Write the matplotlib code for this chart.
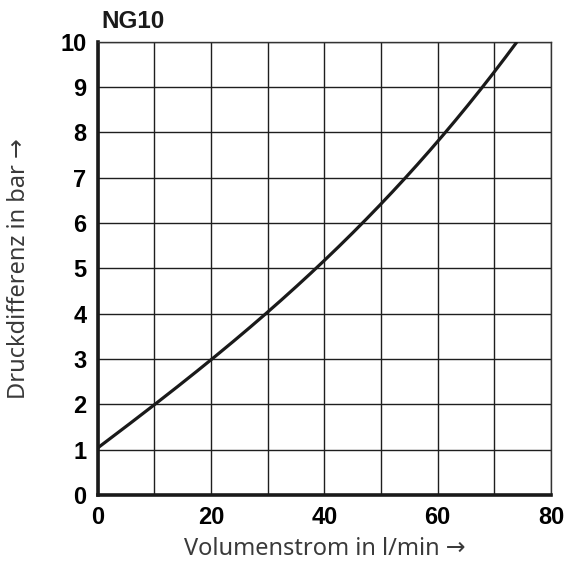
import matplotlib
matplotlib.use("Agg")
import matplotlib.pyplot as plt
import numpy as np

# Pressure drop curve for NG10
flow = [0, 10, 20, 30, 40, 50, 60, 68, 74]          # l/min
dp = [1.03, 2.0, 2.98, 4.02, 5.17, 6.43, 7.8, 9.0, 10.0]  # bar

x_ticks = [0, 20, 40, 60, 80]
y_ticks = [0, 1, 2, 3, 4, 5, 6, 7, 8, 9, 10]

fig = plt.figure(figsize=(5.66, 5.62), dpi=100)
ax = fig.add_axes([0.1723, 0.1192, 0.8012, 0.8068])

# smooth curve through the read points
xs = np.linspace(flow[0], flow[-1], 300)
coef = np.polyfit(flow, dp, 3)
ax.plot(xs, np.polyval(coef, xs), color="#1a1a1a", lw=2.3, solid_capstyle="butt", zorder=3)

ax.set_xlim(0, 80)
ax.set_ylim(0, 10)
ax.set_xticks(x_ticks)
ax.set_yticks(y_ticks)
ax.set_xticks(np.arange(0, 81, 10), minor=True)
ax.grid(True, which="both", color="#1e1e1e", lw=1.0)
ax.tick_params(which="both", length=0)
ax.tick_params(axis="x", pad=8)
ax.tick_params(axis="y", pad=8)

tick_font = dict(family="Liberation Sans", weight="bold", size=17)
ax.set_xticklabels([str(v) for v in x_ticks], fontdict=tick_font)
ax.set_yticklabels([str(v) for v in y_ticks], fontdict=tick_font)

for side in ("left", "bottom"):
    ax.spines[side].set_linewidth(2.6)
    ax.spines[side].set_color("#1a1a1a")
for side in ("top", "right"):
    ax.spines[side].set_linewidth(1.0)
    ax.spines[side].set_color("#333333")

label_font = dict(family=["Noto Sans", "DejaVu Sans"], size=17, color="#3a3a3a")
ax.set_xlabel("Volumenstrom in l/min \u2192", labelpad=6, **label_font)
ax.set_ylabel("Druckdifferenz in bar \u2192", labelpad=21, **label_font)

fig.text(101 / 566, 1 - 28 / 562, "NG10", ha="left", va="baseline",
         family="Liberation Sans", weight="bold", size=17.5, color="#1a1a1a")

fig.savefig("out.png", dpi=100)
